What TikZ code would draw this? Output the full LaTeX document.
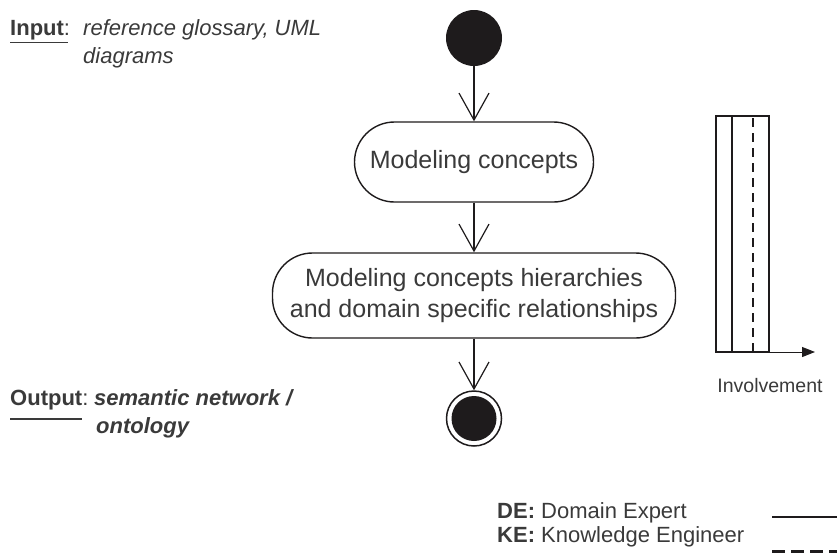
\documentclass[tikz,border=0pt]{standalone}
\usepackage{fontspec}
\setmainfont{Liberation Sans}
\usetikzlibrary{arrows.meta}
\definecolor{ink}{HTML}{1E1B1C}
\definecolor{txt}{HTML}{3A3A3A}
\begin{document}
\begin{tikzpicture}[x=1pt,y=-1pt,
  flowline/.style={draw=ink, line width=1.2pt,
    -{Straight Barb[length=27pt,width=30pt,line width=1.2pt]}},
  activity/.style={draw=ink, line width=1.4pt, rounded corners=40pt,
    font=\fontsize{25}{31}\selectfont, text=txt, align=center, inner sep=0pt},
  startdot/.style={circle, fill=ink, minimum size=56pt, inner sep=0pt},
  endring/.style={circle, draw=ink, line width=1.5pt, minimum size=55pt, inner sep=0pt},
  enddot/.style={circle, fill=ink, minimum size=45pt, inner sep=0pt},
  sidetext/.style={anchor=base west, inner sep=0pt, text=txt, font=\fontsize{22}{26}\selectfont},
  smalltext/.style={anchor=base west, inner sep=0pt, text=txt, font=\fontsize{22}{26}\selectfont},
  frame/.style={draw=ink, line width=1.2pt}
]
\useasboundingbox (0,0) rectangle (837,554);

% activity flow
\node[startdot] (start) at (474,38) {};
\node[activity, minimum width=239pt, minimum height=80pt] (act1) at (474,162) {Modeling concepts};
\node[activity, minimum width=403pt, minimum height=85pt] (act2) at (474,295.5)
  {Modeling concepts hierarchies\\and domain specific relationships};
\node[endring] (finish) at (474,418.5) {};
\node[enddot] (finishdot) at (474,418.5) {};

\draw[flowline] (start) -- (act1);
\draw[flowline] (act1) -- (act2);
\draw[flowline] (act2) -- (finish);

% input and output notes
\node[sidetext] (inlabel) at (10,35) {\textbf{Input}:};
\node[sidetext] (inline1) at (83,35) {\itshape reference glossary, UML};
\node[sidetext] (inline2) at (83,63) {\itshape diagrams};
\draw[txt, line width=1.8pt] (10,42.5) -- (68,42.5);

\node[sidetext] (outlabel) at (10,405) {\textbf{Output}:};
\node[sidetext] (outline1) at (94,405) {\bfseries\itshape semantic network /};
\node[sidetext] (outline2) at (96,433) {\bfseries\itshape ontology};
\draw[txt, line width=1.8pt] (10,419) -- (82,419);

% involvement bar
\draw[frame] (716,116) rectangle (769,352);
\draw[frame] (732,116) -- (732,352);
\draw[ink, line width=1.6pt, dash pattern=on 9pt off 6pt] (753,118) -- (753,352);
\coordinate (barcorner) at (769,352);
\coordinate (barend) at (815,352);
\draw[ink, line width=1pt, -{Triangle[length=13pt,width=10pt]}] (barcorner) -- (barend);
\node[anchor=base, inner sep=0pt, text=txt, font=\fontsize{19.5}{23}\selectfont] (invlabel) at (770,392) {Involvement};

% legend
\node[smalltext] (delabel) at (497,518) {\textbf{DE:} Domain Expert};
\node[smalltext] (kelabel) at (497,542) {\textbf{KE:} Knowledge Engineer};
\coordinate (desolidA) at (772,517);
\coordinate (desolidB) at (837,517);
\coordinate (kedashA) at (772,551);
\coordinate (kedashB) at (837,551);
\draw[ink, line width=1.6pt] (desolidA) -- (desolidB);
\draw[ink, line width=3pt, dash pattern=on 13pt off 6pt] (kedashA) -- (kedashB);
\end{tikzpicture}
\end{document}
